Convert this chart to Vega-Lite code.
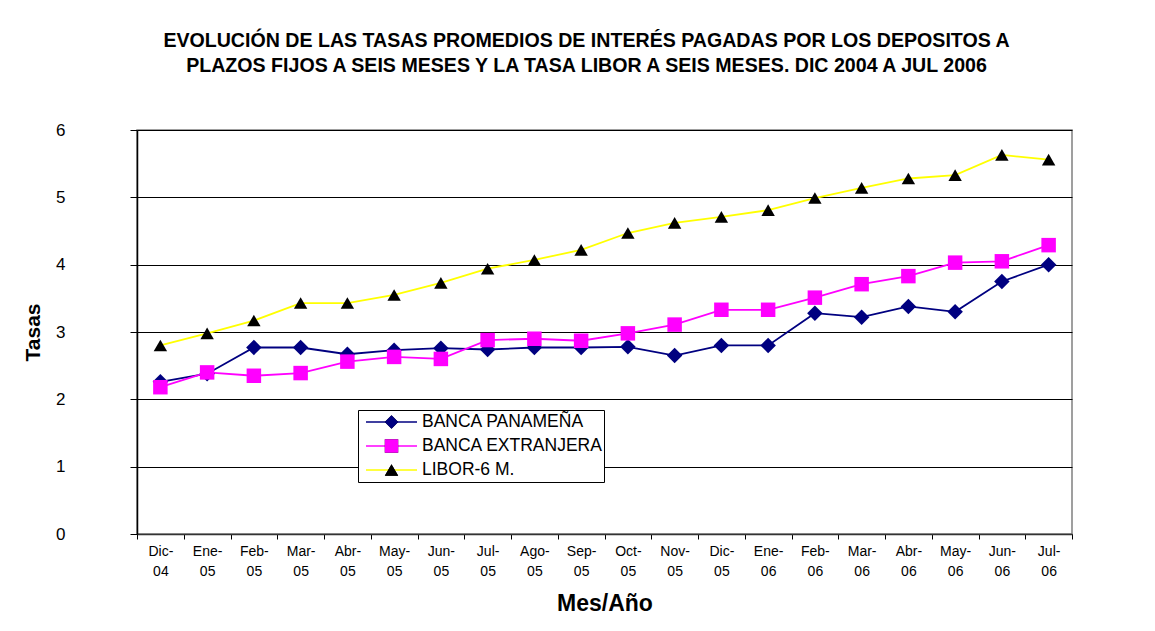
{
  "$schema": "https://vega.github.io/schema/vega-lite/v6.json",
  "autosize": "none",
  "width": 935,
  "height": 404,
  "padding": {"left": 137, "top": 130, "right": 83, "bottom": 97},
  "background": "#ffffff",
  "config": {
    "font": "Liberation Sans",
    "view": {"stroke": "#808080", "strokeWidth": 1.5},
    "axis": {"labelColor": "#000", "titleColor": "#000", "domainColor": "#000", "tickColor": "#000"}
  },
  "title": {
    "text": ["EVOLUCIÓN DE LAS TASAS PROMEDIOS DE INTERÉS PAGADAS POR LOS DEPOSITOS A", "PLAZOS FIJOS A SEIS MESES Y LA TASA LIBOR A SEIS MESES. DIC 2004 A JUL 2006"],
    "font": "Liberation Sans",
    "fontSize": 19.6,
    "fontWeight": "bold",
    "lineHeight": 25,
    "color": "#000",
    "anchor": "middle",
    "frame": "group",
    "dx": -18,
    "offset": 44
  },
  "data": {
    "values": [
      {"mes": "Dic-04", "serie": "BANCA PANAMEÑA", "tasa": 2.26},
      {"mes": "Ene-05", "serie": "BANCA PANAMEÑA", "tasa": 2.38},
      {"mes": "Feb-05", "serie": "BANCA PANAMEÑA", "tasa": 2.77},
      {"mes": "Mar-05", "serie": "BANCA PANAMEÑA", "tasa": 2.77},
      {"mes": "Abr-05", "serie": "BANCA PANAMEÑA", "tasa": 2.67},
      {"mes": "May-05", "serie": "BANCA PANAMEÑA", "tasa": 2.73},
      {"mes": "Jun-05", "serie": "BANCA PANAMEÑA", "tasa": 2.76},
      {"mes": "Jul-05", "serie": "BANCA PANAMEÑA", "tasa": 2.74},
      {"mes": "Ago-05", "serie": "BANCA PANAMEÑA", "tasa": 2.77},
      {"mes": "Sep-05", "serie": "BANCA PANAMEÑA", "tasa": 2.77},
      {"mes": "Oct-05", "serie": "BANCA PANAMEÑA", "tasa": 2.78},
      {"mes": "Nov-05", "serie": "BANCA PANAMEÑA", "tasa": 2.65},
      {"mes": "Dic-05", "serie": "BANCA PANAMEÑA", "tasa": 2.8},
      {"mes": "Ene-06", "serie": "BANCA PANAMEÑA", "tasa": 2.8},
      {"mes": "Feb-06", "serie": "BANCA PANAMEÑA", "tasa": 3.28},
      {"mes": "Mar-06", "serie": "BANCA PANAMEÑA", "tasa": 3.22},
      {"mes": "Abr-06", "serie": "BANCA PANAMEÑA", "tasa": 3.38},
      {"mes": "May-06", "serie": "BANCA PANAMEÑA", "tasa": 3.3},
      {"mes": "Jun-06", "serie": "BANCA PANAMEÑA", "tasa": 3.75},
      {"mes": "Jul-06", "serie": "BANCA PANAMEÑA", "tasa": 4.0},
      {"mes": "Dic-04", "serie": "BANCA EXTRANJERA", "tasa": 2.18},
      {"mes": "Ene-05", "serie": "BANCA EXTRANJERA", "tasa": 2.4},
      {"mes": "Feb-05", "serie": "BANCA EXTRANJERA", "tasa": 2.35},
      {"mes": "Mar-05", "serie": "BANCA EXTRANJERA", "tasa": 2.39},
      {"mes": "Abr-05", "serie": "BANCA EXTRANJERA", "tasa": 2.56},
      {"mes": "May-05", "serie": "BANCA EXTRANJERA", "tasa": 2.63},
      {"mes": "Jun-05", "serie": "BANCA EXTRANJERA", "tasa": 2.6},
      {"mes": "Jul-05", "serie": "BANCA EXTRANJERA", "tasa": 2.88},
      {"mes": "Ago-05", "serie": "BANCA EXTRANJERA", "tasa": 2.9},
      {"mes": "Sep-05", "serie": "BANCA EXTRANJERA", "tasa": 2.87},
      {"mes": "Oct-05", "serie": "BANCA EXTRANJERA", "tasa": 2.98},
      {"mes": "Nov-05", "serie": "BANCA EXTRANJERA", "tasa": 3.11},
      {"mes": "Dic-05", "serie": "BANCA EXTRANJERA", "tasa": 3.33},
      {"mes": "Ene-06", "serie": "BANCA EXTRANJERA", "tasa": 3.33},
      {"mes": "Feb-06", "serie": "BANCA EXTRANJERA", "tasa": 3.51},
      {"mes": "Mar-06", "serie": "BANCA EXTRANJERA", "tasa": 3.71},
      {"mes": "Abr-06", "serie": "BANCA EXTRANJERA", "tasa": 3.83},
      {"mes": "May-06", "serie": "BANCA EXTRANJERA", "tasa": 4.03},
      {"mes": "Jun-06", "serie": "BANCA EXTRANJERA", "tasa": 4.05},
      {"mes": "Jul-06", "serie": "BANCA EXTRANJERA", "tasa": 4.29},
      {"mes": "Dic-04", "serie": "LIBOR-6 M.", "tasa": 2.8},
      {"mes": "Ene-05", "serie": "LIBOR-6 M.", "tasa": 2.98},
      {"mes": "Feb-05", "serie": "LIBOR-6 M.", "tasa": 3.17},
      {"mes": "Mar-05", "serie": "LIBOR-6 M.", "tasa": 3.43},
      {"mes": "Abr-05", "serie": "LIBOR-6 M.", "tasa": 3.43},
      {"mes": "May-05", "serie": "LIBOR-6 M.", "tasa": 3.55},
      {"mes": "Jun-05", "serie": "LIBOR-6 M.", "tasa": 3.73},
      {"mes": "Jul-05", "serie": "LIBOR-6 M.", "tasa": 3.94},
      {"mes": "Ago-05", "serie": "LIBOR-6 M.", "tasa": 4.07},
      {"mes": "Sep-05", "serie": "LIBOR-6 M.", "tasa": 4.22},
      {"mes": "Oct-05", "serie": "LIBOR-6 M.", "tasa": 4.47},
      {"mes": "Nov-05", "serie": "LIBOR-6 M.", "tasa": 4.62},
      {"mes": "Dic-05", "serie": "LIBOR-6 M.", "tasa": 4.71},
      {"mes": "Ene-06", "serie": "LIBOR-6 M.", "tasa": 4.81},
      {"mes": "Feb-06", "serie": "LIBOR-6 M.", "tasa": 4.99},
      {"mes": "Mar-06", "serie": "LIBOR-6 M.", "tasa": 5.14},
      {"mes": "Abr-06", "serie": "LIBOR-6 M.", "tasa": 5.28},
      {"mes": "May-06", "serie": "LIBOR-6 M.", "tasa": 5.33},
      {"mes": "Jun-06", "serie": "LIBOR-6 M.", "tasa": 5.63},
      {"mes": "Jul-06", "serie": "LIBOR-6 M.", "tasa": 5.56}
    ]
  },
  "encoding": {
    "x": {
      "field": "mes",
      "type": "nominal",
      "sort": null,
      "scale": {"type": "band", "paddingInner": 0, "paddingOuter": 0},
      "axis": {
        "title": "Mes/Año",
        "titleFontSize": 23,
        "titleFontWeight": "bold",
        "titlePadding": 14,
        "labelAngle": 0,
        "labelFontSize": 14,
        "labelLineHeight": 20,
        "labelPadding": 5,
        "labelExpr": "indexof(datum.label, '-') > 0 ? [split(datum.label, '-')[0] + '-', split(datum.label, '-')[1]] : ''",
        "tickBand": "extent",
        "tickSize": 5,
        "domainColor": "#333",
        "domainWidth": 1.5,
        "grid": false
      }
    },
    "y": {
      "field": "tasa",
      "type": "quantitative",
      "scale": {"domain": [0, 6], "nice": false},
      "axis": {
        "title": "Tasas",
        "titleFontSize": 21,
        "titleFontWeight": "bold",
        "titlePadding": 12,
        "values": [0, 1, 2, 3, 4, 5, 6],
        "labelFontSize": 17,
        "labelPadding": 65,
        "tickSize": 7,
        "grid": true,
        "gridColor": "#000",
        "gridOpacity": 1,
        "gridWidth": 1,
        "domainWidth": 1.5
      }
    }
  },
  "layer": [
    {
      "mark": {"type": "line", "strokeWidth": 1.8},
      "encoding": {
        "color": {
          "field": "serie",
          "type": "nominal",
          "scale": {"domain": ["BANCA PANAMEÑA", "BANCA EXTRANJERA", "LIBOR-6 M."], "range": ["#000080", "#FF00FF", "#FFFF00"]},
          "legend": {
            "orient": "none",
            "legendX": 221,
            "legendY": 280,
            "title": null,
            "symbolType": "stroke",
            "symbolSize": 2601,
            "symbolStrokeWidth": 1.5,
            "clipHeight": 22,
            "rowPadding": 2,
            "padding": 1,
            "symbolOffset": 6,
            "labelOffset": 4,
            "labelLimit": 400,
            "strokeColor": "#000",
            "fillColor": "#fff",
            "labelFont": "Liberation Sans",
            "labelFontSize": 17.5,
            "labelColor": "#000"
          }
        }
      }
    },
    {
      "mark": {"type": "point", "filled": true, "opacity": 1},
      "encoding": {
        "size": {
          "field": "serie",
          "type": "nominal",
          "sort": ["BANCA PANAMEÑA", "BANCA EXTRANJERA", "LIBOR-6 M."],
          "scale": {"type": "ordinal", "range": [240, 210, 180]},
          "legend": null
        },
        "fill": {
          "field": "serie",
          "type": "nominal",
          "sort": ["BANCA PANAMEÑA", "BANCA EXTRANJERA", "LIBOR-6 M."],
          "scale": {"range": ["#000080", "#FF00FF", "#000000"]},
          "legend": {
            "orient": "none",
            "legendX": 240,
            "legendY": 280,
            "title": null,
            "clipHeight": 22,
            "rowPadding": 2,
            "padding": 1,
            "symbolOffset": 6,
            "symbolSize": 180,
            "labelOffset": 4,
            "labelExpr": "''",
            "symbolOpacity": 1,
            "encode": {
              "symbols": {
                "update": {
                  "shape": {"scale": "shape", "field": "value"},
                  "fill": {"scale": "fill", "field": "value"},
                  "stroke": {"value": "transparent"},
                  "opacity": {"value": 1}
                }
              }
            }
          }
        },
        "shape": {
          "field": "serie",
          "type": "nominal",
          "sort": ["BANCA PANAMEÑA", "BANCA EXTRANJERA", "LIBOR-6 M."],
          "scale": {"range": ["diamond", "square", "triangle-up"]},
          "legend": {
            "orient": "none",
            "legendX": 240,
            "legendY": 280,
            "title": null,
            "clipHeight": 22,
            "rowPadding": 2,
            "padding": 1,
            "symbolOffset": 6,
            "symbolSize": 180,
            "labelOffset": 4,
            "labelExpr": "''",
            "symbolOpacity": 1,
            "encode": {
              "symbols": {
                "update": {
                  "shape": {"scale": "shape", "field": "value"},
                  "fill": {"scale": "fill", "field": "value"},
                  "stroke": {"value": "transparent"},
                  "opacity": {"value": 1}
                }
              }
            }
          }
        }
      }
    }
  ]
}
